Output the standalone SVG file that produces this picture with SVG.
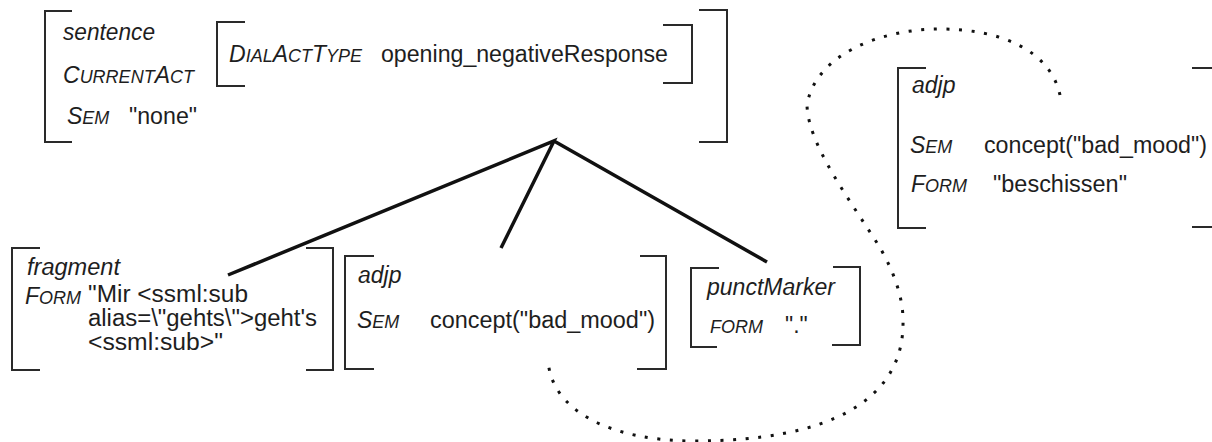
<svg xmlns="http://www.w3.org/2000/svg" width="1212" height="442" viewBox="0 0 1212 442">
<style>
.br{fill:none;stroke:#2a2a2a;stroke-width:2}
.t{font-family:"Liberation Sans",Arial,sans-serif;font-size:23px;fill:#1e1e1e}
.i{font-style:italic}
.sc{font-size:18px}
.edge{fill:none;stroke:#111;stroke-width:3.5;stroke-linecap:butt}
.dots{fill:none;stroke:#111;stroke-width:3;stroke-dasharray:3 9.6}
</style>
<rect width="1212" height="442" fill="#fff"/>
<g id="root">
<path class="br" d="M72 11H45V142H72"/>
<path class="br" d="M699 10H727V142H699"/>
<path class="br" d="M245 22H217V86H245"/>
<path class="br" d="M663 25H692V83H663"/>
<text class="t i" x="63" y="40" textLength="92" lengthAdjust="spacingAndGlyphs">sentence</text>
<text class="t i" x="63" y="83">C<tspan class="sc">URRENT</tspan>A<tspan class="sc">CT</tspan></text>
<text class="t i" x="67" y="124">S<tspan class="sc">EM</tspan></text>
<text class="t" x="129" y="124" textLength="68" lengthAdjust="spacingAndGlyphs">"none"</text>
<text class="t i" x="229" y="62">D<tspan class="sc">IAL</tspan>A<tspan class="sc">CT</tspan>T<tspan class="sc">YPE</tspan></text>
<text class="t" x="381" y="62" textLength="287" lengthAdjust="spacingAndGlyphs">opening_negativeResponse</text>
</g>
<g id="fragment">
<path class="br" d="M40 248H12V370H40"/>
<path class="br" d="M306 248H333V370H306"/>
<text class="t i" x="27" y="275" textLength="93" lengthAdjust="spacingAndGlyphs">fragment</text>
<text class="t i" x="25" y="304">F<tspan class="sc">ORM</tspan></text>
<text class="t" x="88" y="302" textLength="160" lengthAdjust="spacingAndGlyphs">"Mir &lt;ssml:sub</text>
<text class="t" x="88" y="326" textLength="229" lengthAdjust="spacingAndGlyphs">alias=\"gehts\"&gt;geht's</text>
<text class="t" x="88" y="350" textLength="135" lengthAdjust="spacingAndGlyphs">&lt;ssml:sub&gt;"</text>
</g>
<g id="adjp-mid">
<path class="br" d="M374 256H345V369H374"/>
<path class="br" d="M640 256H666V369H637"/>
<text class="t i" x="358" y="283">adjp</text>
<text class="t i" x="357" y="328">S<tspan class="sc">EM</tspan></text>
<text class="t" x="430" y="328" textLength="225" lengthAdjust="spacingAndGlyphs">concept("bad_mood")</text>
</g>
<g id="punct">
<path class="br" d="M719 268H691V347H717"/>
<path class="br" d="M833 267H860V345H832"/>
<text class="t i" x="707" y="295" textLength="128" lengthAdjust="spacingAndGlyphs">punctMarker</text>
<text class="t i sc" x="710" y="333">FORM</text>
<text class="t" x="785" y="333">"."</text>
</g>
<g id="adjp-right">
<path class="br" d="M926 68H898V228H926"/>
<path class="br" d="M1192 68H1212M1192 227H1212"/>
<text class="t i" x="912" y="93">adjp</text>
<text class="t i" x="910" y="153">S<tspan class="sc">EM</tspan></text>
<text class="t" x="984" y="153" textLength="223" lengthAdjust="spacingAndGlyphs">concept("bad_mood")</text>
<text class="t i" x="911" y="192">F<tspan class="sc">ORM</tspan></text>
<text class="t" x="993" y="192" textLength="134" lengthAdjust="spacingAndGlyphs">"beschissen"</text>
</g>
<g id="connectors">
<path class="edge" d="M228 275L554 141L501 248M554 141L767 262"/>
<path class="dots" d="M1060 95C1050 50 1000 29 940 29C880 29 815 55 807 105C808 145 850 200 879 246C892 268 903 295 903 320C905 400 830 441 694 441C610 441 550 410 548 359"/>
</g>
</svg>
